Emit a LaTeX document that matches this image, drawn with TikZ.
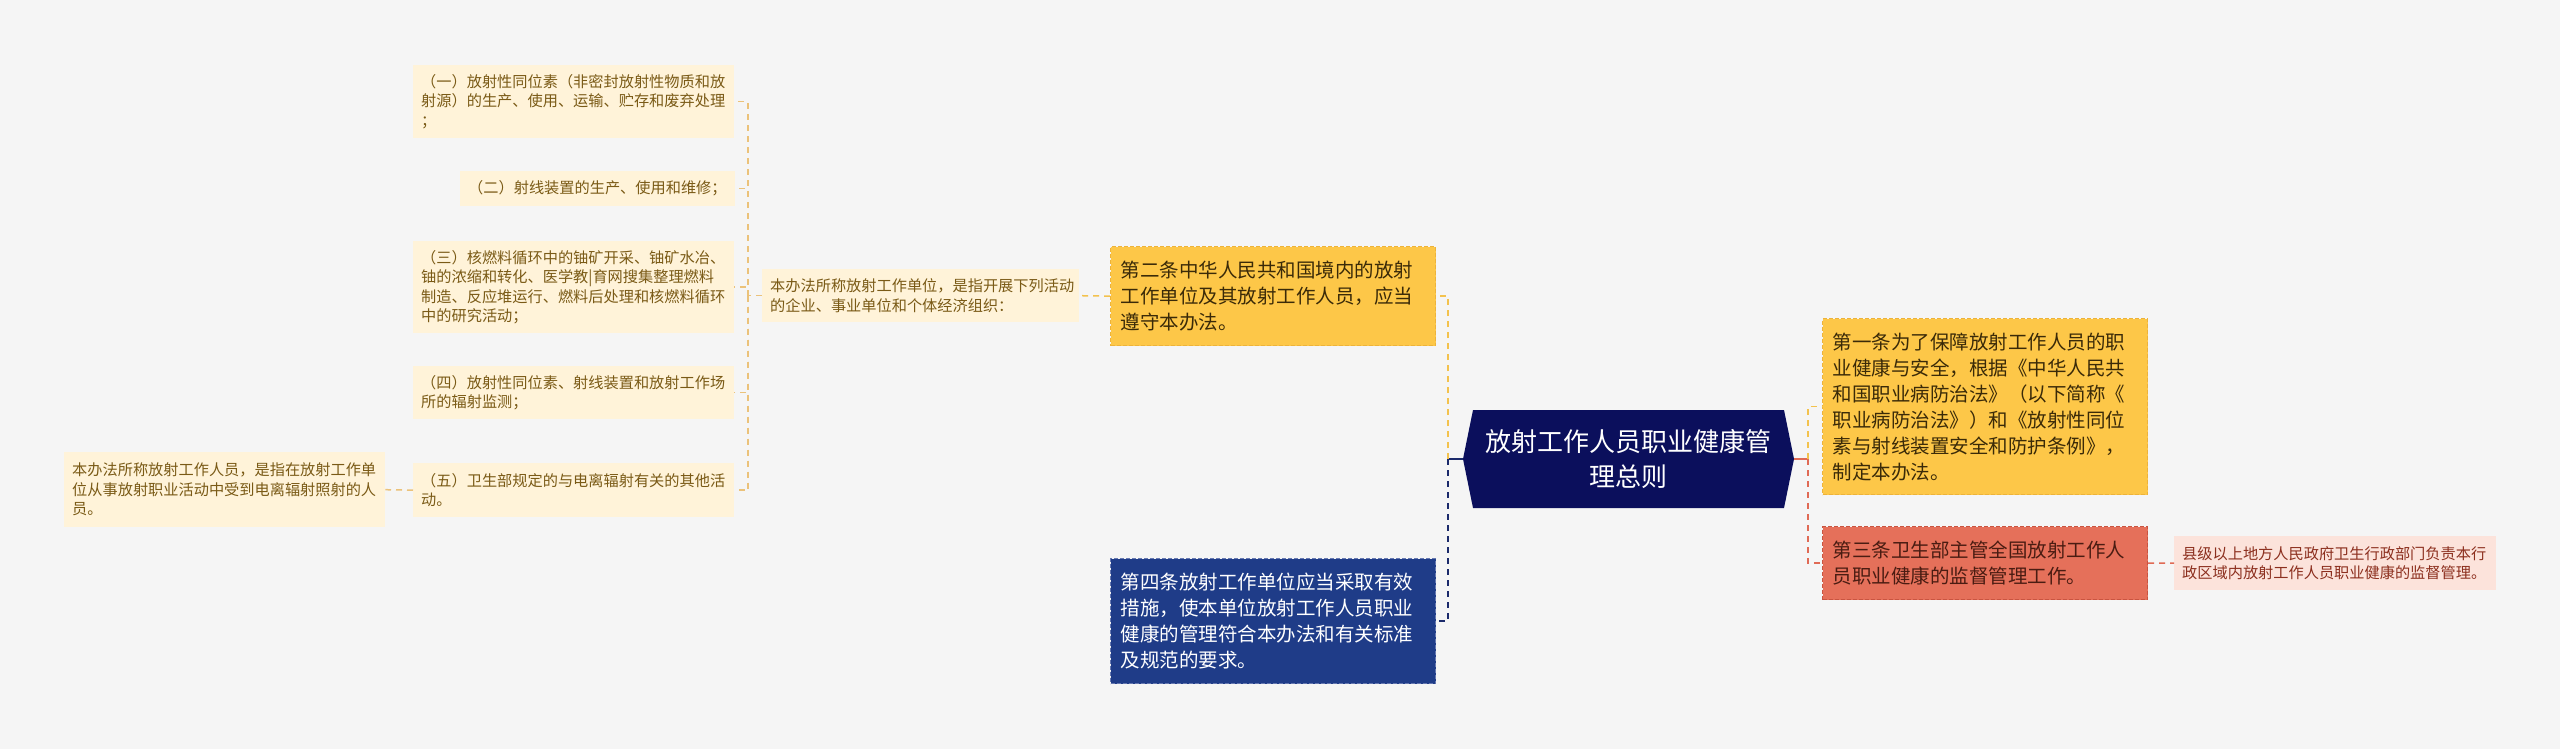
\documentclass[tikz,border=0pt]{standalone}
\usepackage{fontspec}
\setmainfont{Noto Sans CJK SC}
\definecolor{bgcol}{HTML}{F5F5F5}
\definecolor{leaffill}{HTML}{FFF3D9}
\definecolor{leaftext}{HTML}{7A5A16}
\definecolor{amberfill}{HTML}{FDC748}
\definecolor{amberedge}{HTML}{EDB33A}
\definecolor{ambertext}{HTML}{3A2A08}
\definecolor{navyfill}{HTML}{1F3C88}
\definecolor{navyedge}{HTML}{6678B0}
\definecolor{hexfill}{HTML}{0B0F5C}
\definecolor{redfill}{HTML}{E5705A}
\definecolor{rededge}{HTML}{C95440}
\definecolor{redtext}{HTML}{4A1C12}
\definecolor{pinkfill}{HTML}{FCE3DB}
\definecolor{pinktext}{HTML}{8C2F1E}
\definecolor{leafline}{HTML}{EBC27A}
\definecolor{amberline}{HTML}{F3C24E}
\definecolor{navyline}{HTML}{1B2A6B}
\definecolor{redline}{HTML}{E06A55}
\begin{document}
\begin{tikzpicture}[x=1pt,y=-1pt,
  smallfont/.style={font={\fontsize{15.2}{19.5}\selectfont}},
  midfont/.style={font={\fontsize{19.5}{26}\selectfont}},
  leafbox/.style={rectangle, anchor=north west, fill=leaffill, text=leaftext,
    inner xsep=8pt, inner ysep=0pt, align=left, smallfont},
  amberbox/.style={rectangle, anchor=north west, fill=amberfill, draw=amberedge,
    line width=1.2pt, dash pattern=on 4pt off 2pt, text=ambertext,
    inner xsep=10pt, inner ysep=0pt, align=left, midfont, text width=305pt},
  navybox/.style={amberbox, fill=navyfill, draw=navyedge, text=white},
  redbox/.style={amberbox, fill=redfill, draw=rededge, text=redtext},
  pinkbox/.style={leafbox, fill=pinkfill, text=pinktext},
  hexbox/.style={rectangle, minimum width=331pt, minimum height=98pt, inner sep=0pt,
    align=center, text=white, fill=bgcol, font={\fontsize{26}{35}\selectfont},
    path picture={\fill[hexfill] (path picture bounding box.west)
      -- ([xshift=10pt]path picture bounding box.north west)
      -- ([xshift=-10pt]path picture bounding box.north east)
      -- (path picture bounding box.east)
      -- ([xshift=-10pt]path picture bounding box.south east)
      -- ([xshift=10pt]path picture bounding box.south west) -- cycle;}},
  dashline/.style={line width=1.5pt, dash pattern=on 6pt off 5pt},
  leafconn/.style={dashline, draw=leafline},
  amberconn/.style={dashline, draw=amberline},
  navyconn/.style={dashline, draw=navyline, line width=2pt},
  redconn/.style={dashline, draw=redline},
]
\fill[bgcol] (0,0) rectangle (2560,749);

% left leaves
\node[leafbox, text width=305pt, minimum height=73pt] (i1) at (413,65)
  {（一）放射性同位素（非密封放射性物质和放\\射源）的生产、使用、运输、贮存和废弃处理\\；};
\node[leafbox, minimum width=274pt, minimum height=35pt] (i2) at (460,171)
  {（二）射线装置的生产、使用和维修；};
\node[leafbox, text width=305pt, minimum height=92pt] (i3) at (413,241)
  {（三）核燃料循环中的铀矿开采、铀矿水冶、\\铀的浓缩和转化、医学教|育网搜集整理燃料\\制造、反应堆运行、燃料后处理和核燃料循环\\中的研究活动；};
\node[leafbox, text width=305pt, minimum height=53pt] (i4) at (413,366)
  {（四）放射性同位素、射线装置和放射工作场\\所的辐射监测；};
\node[leafbox, text width=305pt, minimum height=54pt] (i5) at (413,463)
  {（五）卫生部规定的与电离辐射有关的其他活\\动。};
\node[leafbox, text width=305pt, minimum height=75pt] (p) at (64,452)
  {本办法所称放射工作人员，是指在放射工作单\\位从事放射职业活动中受到电离辐射照射的人\\员。};
\node[leafbox, text width=301pt, minimum height=53pt] (u) at (762,269)
  {本办法所称放射工作单位，是指开展下列活动\\的企业、事业单位和个体经济组织：};

% main branches
\node[amberbox, minimum height=99pt] (a2) at (1110,246)
  {第二条中华人民共和国境内的放射\\工作单位及其放射工作人员，应当\\遵守本办法。};
\node[navybox, minimum height=125pt] (a4) at (1110,558)
  {第四条放射工作单位应当采取有效\\措施，使本单位放射工作人员职业\\健康的管理符合本办法和有关标准\\及规范的要求。};
\node[hexbox] (hex) at (1628.5,459) {放射工作人员职业健康管\\理总则};
\node[amberbox, minimum height=176pt] (a1) at (1822,318)
  {第一条为了保障放射工作人员的职\\业健康与安全，根据《中华人民共\\和国职业病防治法》（以下简称《\\职业病防治法》）和《放射性同位\\素与射线装置安全和防护条例》，\\制定本办法。};
\node[redbox, minimum height=73pt] (a3) at (1822,526)
  {第三条卫生部主管全国放射工作人\\员职业健康的监督管理工作。};
\node[pinkbox, text width=306pt, minimum height=54pt] (c) at (2174,536)
  {县级以上地方人民政府卫生行政部门负责本行\\政区域内放射工作人员职业健康的监督管理。};

% connectors: centre
\coordinate (lbus) at ([xshift=-15pt]hex.west);
\coordinate (rbus) at ([xshift=14pt]hex.east);
\draw[navyline, line width=2pt] (hex.west) -- (lbus);
\draw[amberconn] (lbus) |- (a2.east);
\draw[navyconn] (lbus) |- (a4.east);
\draw[redline, line width=2pt] (hex.east) -- (rbus);
\draw[amberconn] (rbus) |- (a1.west);
\draw[redconn] (rbus) |- (a3.west);
\draw[redconn] (a3.east) -- (c.west);

% connectors: left tree
\draw[amberconn] (a2.west) -- (u.east);
\coordinate (ubus) at ([xshift=-14pt]u.west);
\draw[leafconn] (u.west) -- (ubus);
\foreach \k in {i1,i2,i3,i4,i5} {
  \draw[leafconn] (ubus) |- (\k.east);
}
\draw[leafconn] (i5.west) -- (p.east);
\end{tikzpicture}
\end{document}
